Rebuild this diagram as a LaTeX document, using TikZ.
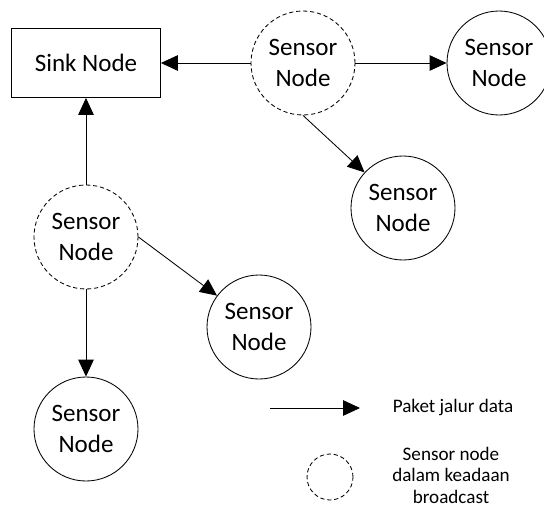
\documentclass[tikz,border=0pt]{standalone}
\usepackage{fontspec}
\setmainfont{Carlito}
\usetikzlibrary{arrows.meta, positioning}

\begin{document}
\begin{tikzpicture}[
            node distance=1cm, on grid,
            line width=0.6pt,
            >={Triangle[length=12pt, width=11pt]},
            roundnode/.style={circle, draw=black, fill=none, minimum size=2.6cm, inner sep=0pt, align=center, font=\fontsize{17.8}{22}\selectfont},
            dashedroundnode/.style={roundnode, dash pattern=on 3pt off 2pt},
            sinknode/.style={rectangle, draw=black, fill=none, minimum width=3.725cm, minimum height=1.725cm, font=\fontsize{17.8}{22}\selectfont},
            legendtext/.style={align=center, inner sep=0pt, font=\fontsize{13.6}{15.4}\selectfont},
            ]
            \useasboundingbox (0,0) rectangle (13.6,-12.675);

            \node[sinknode]          (sink) at (2.15,-1.575) {Sink Node};
            \node[dashedroundnode]   (ts) [right=5.425cm of sink] {Sensor\\Node};
            \node[roundnode]         (tr) [right=4.9cm of ts] {Sensor\\Node};
            \node[roundnode]         (mr) [below right=3.625cm and 2.5cm of ts] {Sensor\\Node};
            \node[dashedroundnode]   (ls) [below=4.35cm of sink] {Sensor\\Node};
            \node[roundnode]         (lm) [below right=2.25cm and 4.325cm of ls] {Sensor\\Node};
            \node[roundnode]         (bl) [below=4.8cm of ls] {Sensor\\Node};

            % legend
            \coordinate (la) at (6.75,-10.2);
            \coordinate (lb) at (9.0,-10.2);
            \node[legendtext]        (lt1) at (11.325,-10.175) {Paket jalur data};
            \node[dashedroundnode, minimum size=1.15cm] (lc) at (8.25,-11.925) {};
            \node[legendtext]        (lt2) at (11.275,-11.88) {Sensor node\\dalam keadaan\\broadcast};

            \draw[->] (ts) -- (sink);
            \draw[->] (ts) -- (tr);
            \draw[->] (ts.south) -- (mr);
            \draw[->] (ls) -- (sink);
            \draw[->] (ls.east) -- (lm);
            \draw[->] (ls) -- (bl);
            \draw[->] (la) -- (lb);
        \end{tikzpicture}
\end{document}
